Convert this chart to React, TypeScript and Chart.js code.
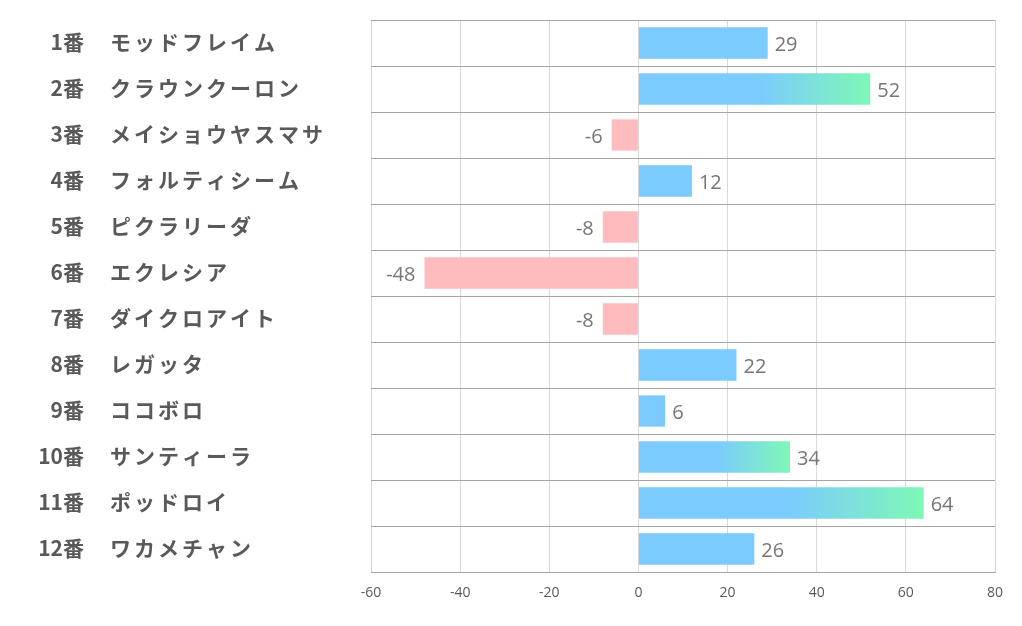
import React, { useEffect, useRef } from "react";
import { Chart, registerables } from "chart.js";

Chart.register(...registerables);

const horseNumbers = ["1番", "2番", "3番", "4番", "5番", "6番", "7番", "8番", "9番", "10番", "11番", "12番"];
const horseNames = [
  "モッドフレイム",
  "クラウンクーロン",
  "メイショウヤスマサ",
  "フォルティシーム",
  "ピクラリーダ",
  "エクレシア",
  "ダイクロアイト",
  "レガッタ",
  "ココボロ",
  "サンティーラ",
  "ポッドロイ",
  "ワカメチャン",
];
const scores = [29, 52, -6, 12, -8, -48, -8, 22, 6, 34, 64, 26];
const xMin = -60;
const xMax = 80;
const xStep = 20;

const BLUE = "#7bcbfe";
const GREEN = "#7ef8b5";
const PINK = "#ffbcbf";
const GRADIENT_THRESHOLD = 30;

const labelPlugin = {
  id: "customLabels",
  afterDraw(chart: any) {
    const ctx = chart.ctx;
    const yScale = chart.scales.y;
    ctx.save();
    ctx.fillStyle = "#595959";
    ctx.textBaseline = "middle";
    horseNames.forEach((name, i) => {
      const y = yScale.getPixelForValue(i) - 1;
      ctx.font = 'bold 21px "Noto Sans CJK JP", sans-serif';
      (ctx as any).letterSpacing = "0px";
      ctx.textAlign = "right";
      ctx.fillText(horseNumbers[i], 84, y);
      (ctx as any).letterSpacing = "3px";
      ctx.textAlign = "left";
      ctx.fillText(name, 110, y);
    });
    (ctx as any).letterSpacing = "0px";
    // value labels
    const meta = chart.getDatasetMeta(0);
    ctx.font = '20px "Open Sans", "Noto Sans", sans-serif';
    ctx.fillStyle = "#767676";
    meta.data.forEach((bar: any, i: number) => {
      const v = scores[i];
      if (v >= 0) {
        ctx.textAlign = "left";
        ctx.fillText(String(v), bar.x + 7, bar.y + 2);
      } else {
        ctx.textAlign = "right";
        ctx.fillText(String(v), bar.x - 9, bar.y + 2);
      }
    });
    ctx.restore();
  },
};

export default function App() {
  const canvasRef = useRef<HTMLCanvasElement | null>(null);

  useEffect(() => {
    document.body.style.margin = "0";
    const canvas = canvasRef.current!;
    const chart = new Chart(canvas, {
      type: "bar",
      data: {
        labels: horseNames,
        datasets: [
          {
            data: scores,
            backgroundColor: (c: any) => {
              const v = scores[c.dataIndex];
              if (v < 0) return PINK;
              if (v < GRADIENT_THRESHOLD) return BLUE;
              const chartObj = c.chart;
              const xs = chartObj.scales && chartObj.scales.x;
              if (!chartObj.chartArea || !xs) return BLUE;
              const x0 = xs.getPixelForValue(0);
              const x1 = xs.getPixelForValue(v);
              const g = chartObj.ctx.createLinearGradient(x0, 0, x1, 0);
              g.addColorStop(0, BLUE);
              g.addColorStop(0.52, BLUE);
              g.addColorStop(1, GREEN);
              return g;
            },
            borderWidth: 0,
            categoryPercentage: 1,
            barPercentage: 0.68,
          },
        ],
      },
      options: {
        indexAxis: "y",
        animation: false,
        responsive: false,
        maintainAspectRatio: false,
        layout: { padding: { left: 371, right: 27, top: 20, bottom: 0 } },
        plugins: {
          legend: { display: false },
          tooltip: { enabled: false },
        },
        scales: {
          x: {
            min: xMin,
            max: xMax,
            ticks: {
              stepSize: xStep,
              color: "#595959",
              font: { size: 14, family: '"Open Sans", "Noto Sans", sans-serif' },
              padding: 13,
            },
            grid: { color: "#d9d9d9", drawTicks: false, lineWidth: 1 },
            border: { display: true, color: "#a6a6a6", width: 1 },
            afterFit: (s: any) => {
              s.height = 54;
            },
          },
          y: {
            ticks: { display: false },
            grid: { color: "#a6a6a6", drawTicks: false, offset: true, lineWidth: 1 },
            border: { display: false },
            afterFit: (s: any) => {
              s.width = 0;
            },
          },
        },
      },
      plugins: [labelPlugin],
    } as any);
    return () => chart.destroy();
  }, []);

  return (
    <div style={{ position: "fixed", left: 0, top: 0, width: 1022, height: 626, background: "#fff" }}>
      <canvas ref={canvasRef} width={1022} height={626} style={{ width: 1022, height: 626 }} />
    </div>
  );
}
